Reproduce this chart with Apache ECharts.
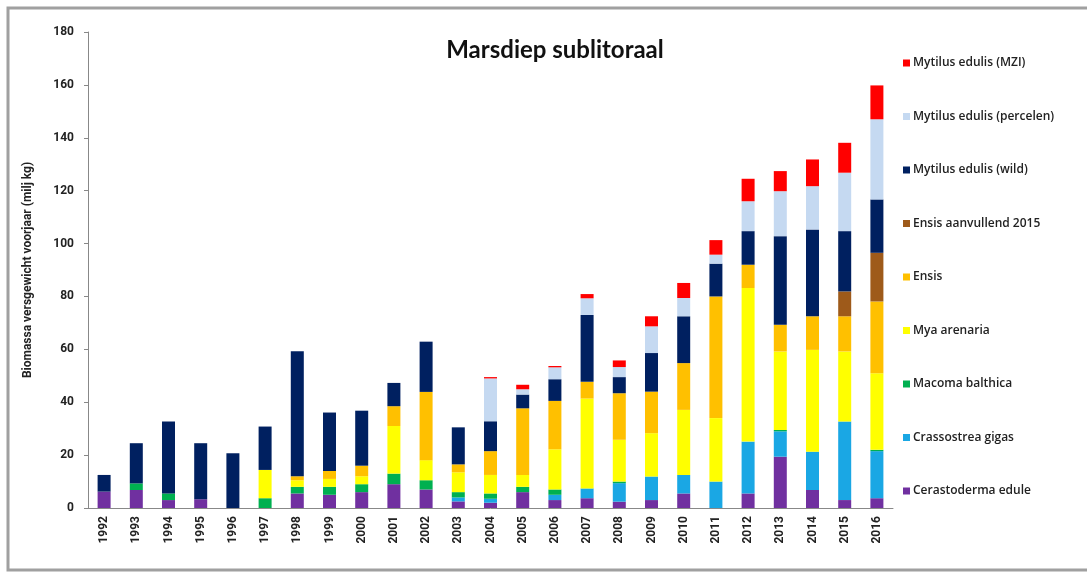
<!DOCTYPE html>
<html>
<head>
<meta charset="utf-8">
<script src="https://cdn.jsdelivr.net/npm/echarts@6/dist/echarts.min.js"></script>
<style>
    html, body { margin: 0; padding: 0; background: #fff; }
    #main { width: 1087px; height: 573px; }
</style>
</head>
<body>
<div id="main"></div>
<script>
var years = ['1992', '1993', '1994', '1995', '1996', '1997', '1998', '1999', '2000', '2001', '2002', '2003',
    '2004', '2005', '2006', '2007', '2008', '2009', '2010', '2011', '2012', '2013', '2014', '2015', '2016'];

// stacked from bottom to top
var cerastoderma = [6.2, 6.8, 3, 3.3, 0, 0, 5.5, 5, 6, 9, 7, 2.5, 2, 6, 3, 3.7, 2.4, 3, 5.5, 0, 5.5, 19.4, 6.8, 3, 3.7];
var crassostrea = [0, 0, 0, 0, 0, 0, 0, 0, 0, 0, 0, 1.5, 1.5, 0, 2, 3.7, 7, 8.9, 7, 10, 19.6, 9.6, 14.5, 29.7, 17.8];
var macoma = [0, 2.5, 2.5, 0, 0, 3.7, 2.5, 3, 3, 4, 3.5, 2, 2, 2, 2, 0, 0.6, 0, 0, 0, 0, 0.5, 0, 0, 0.5];
var mya = [0, 0, 0, 0, 0, 10.7, 2.5, 3, 3, 18, 7.6, 7.5, 7, 4.5, 15.2, 34, 15.8, 16.4, 24.6, 24, 58.1, 29.7, 38.5, 26.5, 29];
var ensis = [0, 0, 0, 0, 0, 0, 1.5, 3, 4, 7.5, 25.8, 3, 9, 25.2, 18.3, 6.3, 17.6, 15.7, 17.7, 46, 8.8, 10.1, 12.7, 13.3, 27.1];
var ensisExtra = [0, 0, 0, 0, 0, 0, 0, 0, 0, 0, 0, 0, 0, 0, 0, 0, 0, 0, 0, 0, 0, 0, 0, 9.4, 18.4];
var mytilusWild = [6.3, 15.2, 27.2, 21.2, 20.7, 16.4, 47.3, 22.1, 20.8, 8.8, 19, 14, 11.3, 5.2, 8.2, 25.3, 6.1, 14.6, 17.7, 12.4, 12.7, 33.5, 32.8, 22.8, 20.2];
var mytilusPercelen = [0, 0, 0, 0, 0, 0, 0, 0, 0, 0, 0, 0, 16.2, 2, 4.5, 6.3, 3.8, 10.1, 6.9, 3.4, 11.3, 17, 16.4, 22.1, 30.3];
var mytilusMzi = [0, 0, 0, 0, 0, 0, 0, 0, 0, 0, 0, 0, 0.5, 1.7, 0.5, 1.6, 2.5, 3.8, 5.7, 5.5, 8.5, 7.6, 10.1, 11.3, 12.8];

var seriesNames = ['Cerastoderma edule', 'Crassostrea gigas', 'Macoma balthica', 'Mya arenaria', 'Ensis',
    'Ensis aanvullend 2015', 'Mytilus edulis (wild)', 'Mytilus edulis (percelen)', 'Mytilus edulis (MZI)'];
var seriesData = [cerastoderma, crassostrea, macoma, mya, ensis, ensisExtra, mytilusWild, mytilusPercelen, mytilusMzi];
var seriesColors = ['#7030A0', '#1AA7E4', '#00B050', '#FFFF00', '#FFC000', '#9E5A1A', '#002060', '#C5D9F1', '#FF0000'];

var yTicks = { min: 0, max: 180, interval: 20 };

var series = [];
for (var i = 0; i < seriesNames.length; i++) {
    series.push({
        name: seriesNames[i],
        type: 'bar',
        stack: 'biomassa',
        barWidth: 13,
        data: seriesData[i],
        itemStyle: { color: seriesColors[i] }
    });
}

var myChart = echarts.init(document.getElementById('main'));

var option = {
    animation: false,
    backgroundColor: '#fff',
    title: {
        text: 'Marsdiep sublitoraal',
        left: 550,
        top: 33,
        textAlign: 'center',
        textStyle: { fontFamily: 'Lato', fontSize: 24, fontWeight: 'bold', color: '#111' }
    },
    graphic: [{
        type: 'rect',
        shape: { x: 8, y: 8, width: 1100, height: 562 },
        style: { fill: 'none', stroke: '#a0a0a0', lineWidth: 3 },
        silent: true
    }],
    legend: {
        orient: 'vertical',
        left: 898,
        top: 51,
        itemWidth: 7,
        itemHeight: 7,
        itemGap: 39.5,
        icon: 'rect',
        data: seriesNames.slice().reverse(),
        textStyle: { fontFamily: 'Open Sans', fontSize: 12, fontWeight: 600, color: '#222', lineHeight: 14, padding: [0, 0, 0, -2] }
    },
    grid: { left: 88, top: 32, width: 805, height: 476, containLabel: false },
    xAxis: {
        type: 'category',
        data: years,
        axisLine: { lineStyle: { color: '#888', width: 1 } },
        axisTick: { alignWithLabel: false, length: 4, lineStyle: { color: '#888' } },
        axisLabel: {
            rotate: 90,
            margin: 8,
            fontFamily: 'Roboto',
            fontSize: 12,
            fontWeight: 'bold',
            color: '#222'
        }
    },
    yAxis: {
        type: 'value',
        min: yTicks.min,
        max: yTicks.max,
        interval: yTicks.interval,
        name: 'Biomassa versgewicht voorjaar (milj kg)',
        nameLocation: 'middle',
        nameGap: 54,
        nameTextStyle: { fontFamily: 'Roboto', fontSize: 12, fontWeight: 'bold', color: '#222' },
        axisLine: { show: true, lineStyle: { color: '#888', width: 1 } },
        axisTick: { show: true, length: 4, lineStyle: { color: '#888' } },
        splitLine: { show: false },
        axisLabel: { margin: 14, fontFamily: 'Roboto', fontSize: 12, fontWeight: 'bold', color: '#222' }
    },
    series: series
};

myChart.setOption(option);
</script>
</body>
</html>
